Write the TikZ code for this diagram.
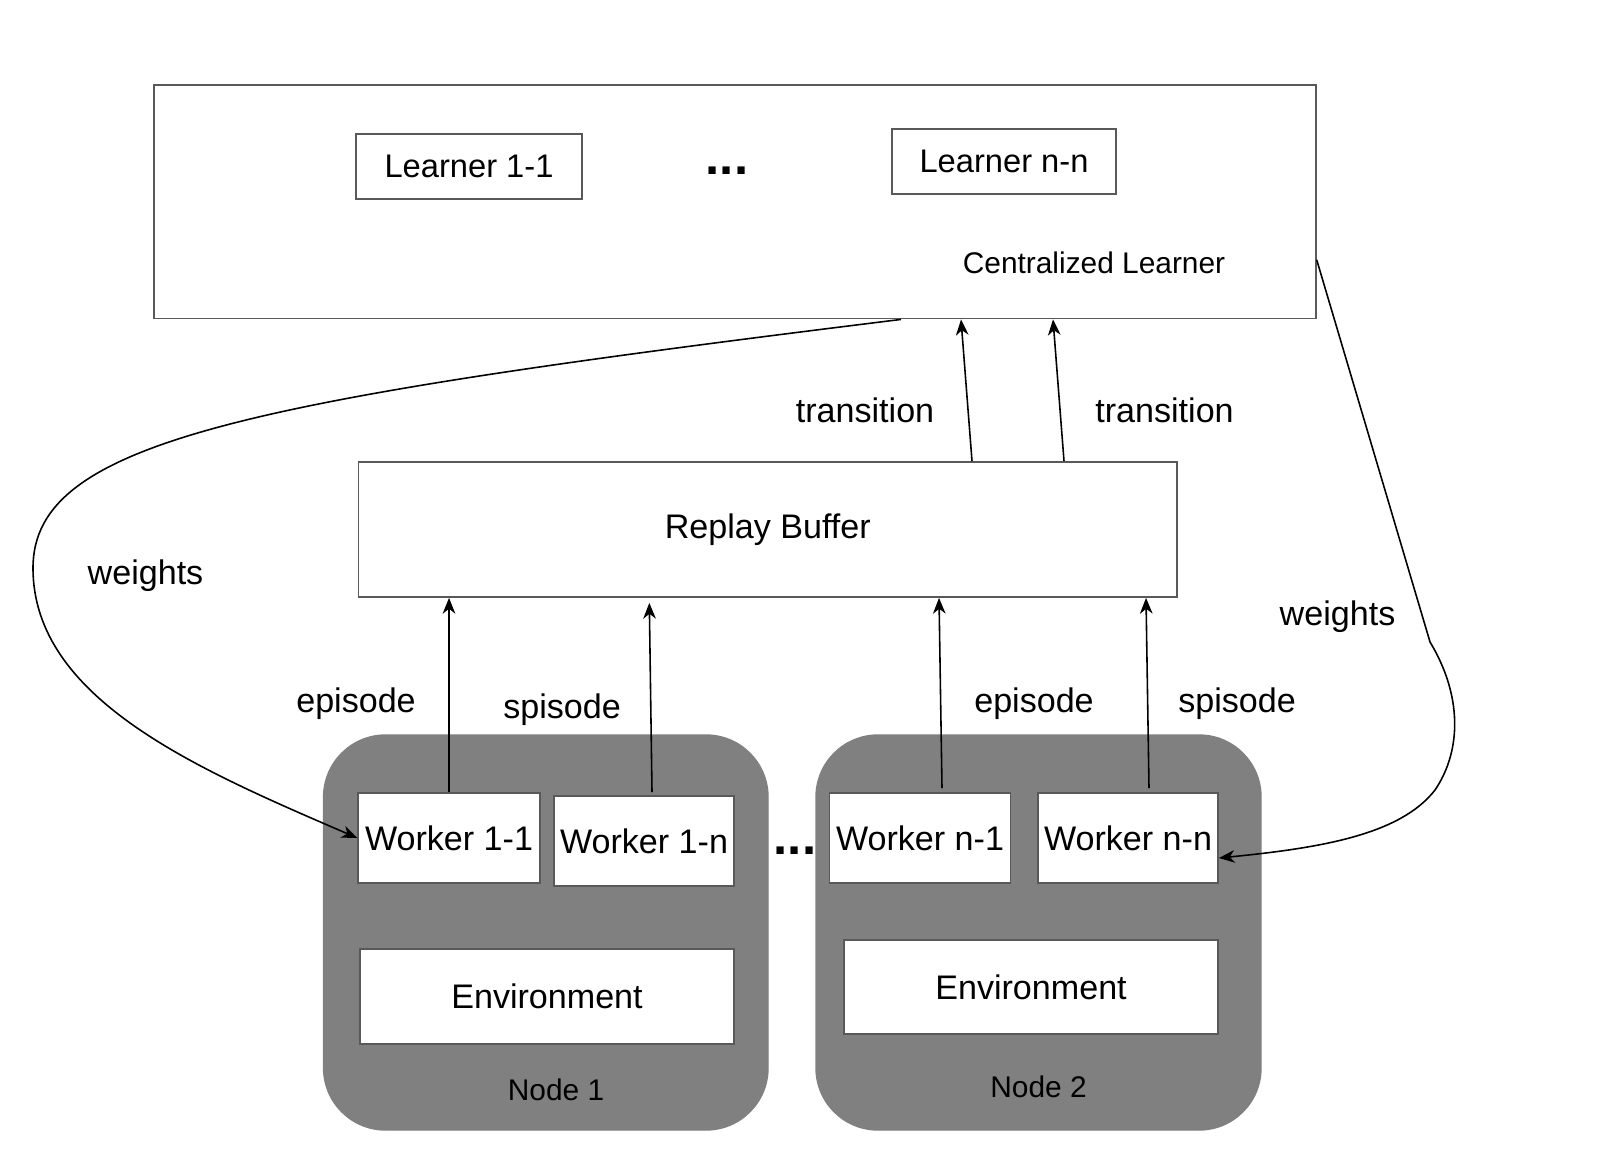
\documentclass[tikz,border=0pt]{standalone}
\usepackage{fontspec}
\setmainfont{Liberation Sans}
\usepackage{tikz}
\usetikzlibrary{arrows.meta, positioning}
\tikzset{
  box/.style={draw=black!65, fill=white, line width=0.5pt, inner sep=0pt, font=\fontsize{9.7}{11}\selectfont},
  nodebg/.style={draw=black!50, fill=black!50, rounded corners=0.62cm, inner sep=0pt},
  lbl/.style={inner sep=0pt, font=\fontsize{9.7}{11}\selectfont},
  small/.style={inner sep=0pt, font=\fontsize{8.5}{10}\selectfont},
  dots/.style={inner sep=0pt, font=\fontsize{14.5}{16}\selectfont\bfseries},
  arrow/.style={line width=0.45pt, -{Stealth[length=4.5pt, width=3.6pt, inset=1.4pt]}}
}

\begin{document}
\begin{tikzpicture}
  \useasboundingbox (0,0) rectangle (16.06,-11.58);

  % Centralized learner with its learners
  \node[box, minimum width=11.62cm, minimum height=2.335cm] (cl) at (7.348,-2.018) {};
  \node[box, font=\fontsize{9.3}{11}\selectfont, minimum width=2.26cm, minimum height=0.65cm] (l11) at (4.69,-1.665) {Learner 1-1};
  \node[box, font=\fontsize{9.3}{11}\selectfont, minimum width=2.24cm, minimum height=0.65cm] (lnn) at (10.04,-1.615) {Learner n-n};
  \node[dots] (ldots) at (7.27,-1.71) {...};
  \node[small] (cltext) at (10.94,-2.63) {Centralized Learner};

  % Replay buffer
  \node[box, minimum width=8.185cm, minimum height=1.35cm] (rb) at (7.678,-5.295) {Replay Buffer};

  % Nodes 1 and 2
  \node[nodebg, minimum width=4.444cm, minimum height=3.95cm] (node1) at (5.458,-9.325) {};
  \node[nodebg, minimum width=4.45cm, minimum height=3.95cm] (node2) at (10.385,-9.325) {};
  \node[dots] (ndots) at (7.95,-8.51) {...};

  \node[box, minimum width=1.815cm, minimum height=0.9cm] (w11) at (4.49,-8.38) {Worker 1-1};
  \node[box, minimum width=1.80cm, minimum height=0.9cm] (w1n) at (6.44,-8.41) {Worker 1-n};
  \node[box, minimum width=3.735cm, minimum height=0.95cm] (env1) at (5.47,-9.965) {Environment};
  \node[small] (n1text) at (5.56,-10.90) {Node 1};

  \node[box, minimum width=1.81cm, minimum height=0.9cm] (wn1) at (9.20,-8.38) {Worker n-1};
  \node[box, minimum width=1.80cm, minimum height=0.9cm] (wnn) at (11.28,-8.38) {Worker n-n};
  \node[box, minimum width=3.74cm, minimum height=0.945cm] (env2) at (10.31,-9.87) {Environment};
  \node[small] (n2text) at (10.385,-10.87) {Node 2};

  % Episodes up to the buffer
  \draw[arrow] (w11.north) -- (w11.north |- rb.south);
  \draw[arrow] ([xshift=0.08cm, yshift=0.03cm]w1n.north) -- ([xshift=-1.185cm, yshift=-0.05cm]rb.south);
  \draw[arrow] ([xshift=0.22cm, yshift=0.04cm]wn1.north) -- ([xshift=1.712cm]rb.south);
  \draw[arrow] ([xshift=0.21cm, yshift=0.04cm]wnn.north) -- ([xshift=3.782cm]rb.south);
  \node[lbl] (ep1) at (3.56,-7.04) {episode};
  \node[lbl] (sp1) at (5.62,-7.10) {spisode};
  \node[lbl] (ep2) at (10.34,-7.04) {episode};
  \node[lbl] (sp2) at (12.37,-7.04) {spisode};

  % Transitions up to the learner
  \draw[arrow] ([xshift=2.042cm]rb.north) -- ([xshift=2.262cm]cl.south);
  \draw[arrow] ([xshift=2.962cm]rb.north) -- ([xshift=3.182cm]cl.south);
  \node[lbl] (tr1) at (8.65,-4.10) {transition};
  \node[lbl] (tr2) at (11.645,-4.10) {transition};

  % Weights back to the workers
  \draw[arrow] ([xshift=1.662cm]cl.south) .. controls (2.5,-4.0) and (0.33,-4.4) .. (0.33,-5.68)
    .. controls (0.33,-7.0) and (2.0,-7.7) .. (w11.west);
  \draw[arrow] ([yshift=-0.58cm]cl.east) -- (14.30,-6.42) .. controls (14.62,-6.95) and (14.62,-7.5) .. (14.35,-7.9)
    .. controls (14.0,-8.35) and (13.2,-8.48) .. ([yshift=-0.2cm]wnn.east);
  \node[lbl] (wt1) at (1.455,-5.76) {weights};
  \node[lbl] (wt2) at (13.375,-6.17) {weights};
\end{tikzpicture}
\end{document}
